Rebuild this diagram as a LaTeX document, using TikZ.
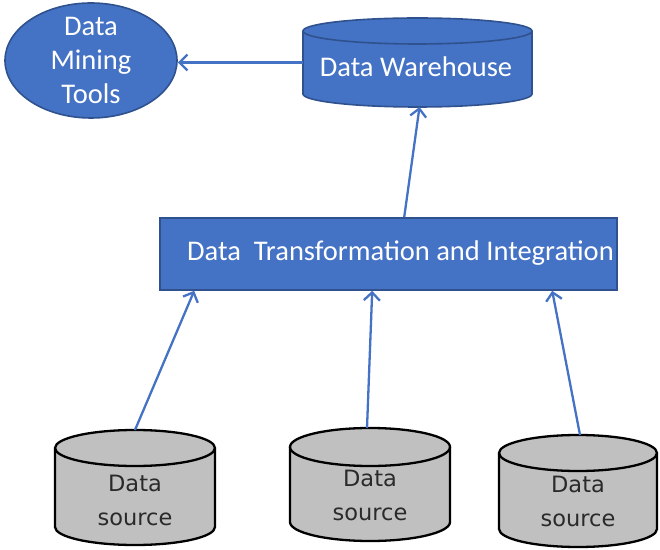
\documentclass[tikz,border=0pt]{standalone}
\usepackage{fontspec}
\setmainfont{Carlito}
\newfontfamily\srcfont{DejaVu Sans}
\usetikzlibrary{arrows.meta,shapes.geometric,calc}

\definecolor{boxblue}{HTML}{4472C4}
\definecolor{edgeblue}{HTML}{2F528F}
\definecolor{drumgray}{HTML}{C0C0C0}
\definecolor{srcink}{HTML}{2A2A2A}

% Upright drum outline drawn around a named (invisible) box node:
% #1 node name, #2 half width, #3 cap radius, #4 path style
\newcommand\drumoutline[4]{%
  \path[#4] ([yshift=-#3]#1.north west) -- ([yshift=#3]#1.south west)
    arc[start angle=180,end angle=360,x radius=#2,y radius=#3]
    -- ([yshift=-#3]#1.north east)
    arc[start angle=0,end angle=180,x radius=#2,y radius=#3] -- cycle;
  \path[#4,fill=none] ([yshift=-#3]#1.north west)
    arc[start angle=180,end angle=360,x radius=#2,y radius=#3];
}

\tikzset{
  drumbox/.style={rectangle,inner sep=0pt,outer sep=0pt,minimum width=#1},
  bluefill/.style={fill=boxblue,draw=edgeblue,line width=1.6pt},
  grayfill/.style={fill=drumgray,draw=black,line width=2.3pt},
  bluetext/.style={text=white,font=\fontsize{28.5}{34}\selectfont,align=center,inner sep=0pt},
  srctext/.style={text=srcink,font=\srcfont\fontsize{22.5}{34}\selectfont,align=center,inner sep=0pt},
  flow/.style={draw=boxblue,line width=2.3pt,-{Straight Barb[length=8pt,width=16pt]}},
}

\begin{document}
\begin{tikzpicture}[x=1pt,y=1pt]
\useasboundingbox (0,0) rectangle (660,549);

% mining tools
\node[ellipse,bluefill,inner sep=0pt,minimum width=172,minimum height=115] (dm) at (91,488.5) {};
\node[bluetext] (dmtxt) at (91,489) {Data\\Mining\\Tools};

% warehouse
\node[drumbox=229,minimum height=89] (wh) at (417.5,486.5) {};
\drumoutline{wh}{114.5}{13}{bluefill}
\node[bluetext] (whtxt) at (416,482) {Data Warehouse};

% transformation stage
\node[rectangle,bluefill,minimum width=457,minimum height=72] (tr) at (388.5,295) {};
\node[bluetext] (trtxt) at (400.5,296) {Data\ \ Transformation and Integration};

% sources
\node[drumbox=160,minimum height=115] (ds1) at (135,61.5) {};
\node[drumbox=160,minimum height=113] (ds2) at (370,64.5) {};
\node[drumbox=158,minimum height=112] (ds3) at (578,58) {};
\drumoutline{ds1}{80}{18}{grayfill}
\drumoutline{ds2}{80}{19}{grayfill}
\drumoutline{ds3}{79}{18}{grayfill}
\node[srctext] (ds1txt) at (135,49) {Data\\source};
\node[srctext] (ds2txt) at (370,54) {Data\\source};
\node[srctext] (ds3txt) at (578,48) {Data\\source};

% flows
\draw[flow] (ds1.north) -- ([xshift=35]tr.south west);
\draw[flow] ([xshift=-3]ds2.north) -- ([xshift=213]tr.south west);
\draw[flow] ([xshift=2]ds3.north) -- ([xshift=393]tr.south west);
\draw[flow] ([xshift=245]tr.north west) -- ([xshift=2]wh.south);
\draw[flow] (wh.west) -- (wh.west -| dm.east);
\end{tikzpicture}
\end{document}
